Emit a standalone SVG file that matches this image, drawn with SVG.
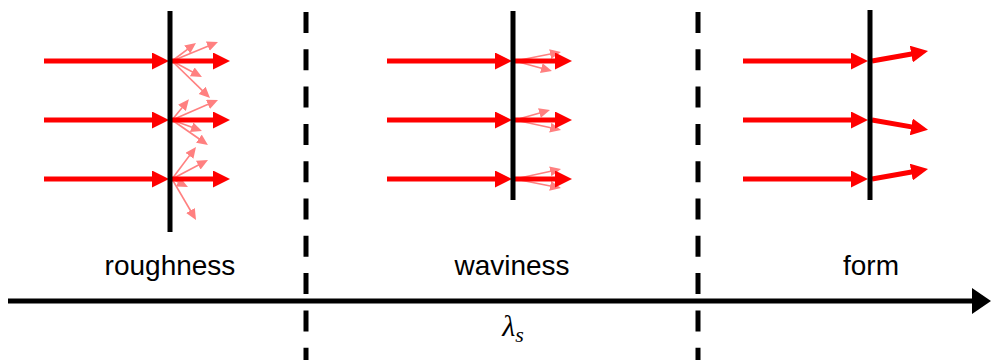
<svg xmlns="http://www.w3.org/2000/svg" width="991" height="360" viewBox="0 0 991 360">
<style>
.surf{stroke:#000;stroke-width:5;fill:none}
.dash{stroke:#000;stroke-width:5;fill:none;stroke-dasharray:21 16.3}
.ray{stroke:#f00;stroke-width:5;fill:none;marker-end:url(#big)}
.sc{stroke:#ff8080;stroke-width:1.6;fill:none;marker-end:url(#small)}
.lbl{font-family:"Liberation Sans",Arial,sans-serif;font-size:28px;fill:#000;text-anchor:middle}
</style>
<defs>
<marker id="big" markerUnits="userSpaceOnUse" markerWidth="17" markerHeight="17" refX="6" refY="8.5" orient="auto"><path d="M0,0 L17,8.5 L0,17 z" fill="#f00"/></marker>
<marker id="small" markerUnits="userSpaceOnUse" markerWidth="12" markerHeight="11" refX="4" refY="5" orient="auto"><path d="M0,0 L11,5 L0,10 z" fill="#ff8080"/></marker>
<marker id="axis" markerUnits="userSpaceOnUse" markerWidth="20" markerHeight="28" refX="6" refY="13" orient="auto"><path d="M0,0 L19,13 L0,26 z" fill="#000"/></marker>
</defs>

<g id="dividers">
<line class="dash" x1="306" y1="12" x2="306" y2="360"/>
<line class="dash" x1="698" y1="12" x2="698" y2="360"/>
</g>

<g id="axis-group">
<line x1="8" y1="301" x2="978" y2="301" stroke="#000" stroke-width="5" marker-end="url(#axis)"/>
<text x="513" y="336" font-family="'Liberation Serif','DejaVu Serif',serif" font-style="italic" font-size="30" text-anchor="middle">λ<tspan font-size="22" dy="6">s</tspan></text>
</g>

<g id="roughness">
<g class="connectors">
<line class="sc" x1="172" y1="61" x2="190.4" y2="47.2"/>
<line class="sc" x1="172" y1="61" x2="211.5" y2="44.7"/>
<line class="sc" x1="172" y1="61" x2="195.8" y2="73.7"/>
<line class="sc" x1="172" y1="61" x2="205" y2="93.1"/>
<line class="sc" x1="172" y1="120" x2="184.5" y2="104.7"/>
<line class="sc" x1="172" y1="120" x2="211.6" y2="102.8"/>
<line class="sc" x1="172" y1="120" x2="195.4" y2="128.6"/>
<line class="sc" x1="172" y1="120" x2="202.2" y2="141"/>
<line class="sc" x1="172" y1="179" x2="191.8" y2="152.6"/>
<line class="sc" x1="172" y1="179" x2="201.8" y2="163.3"/>
<line class="sc" x1="172" y1="179" x2="181.7" y2="183.9"/>
<line class="sc" x1="172" y1="179" x2="192.5" y2="214"/>
<line class="ray" x1="44" y1="61" x2="158" y2="61"/>
<line class="ray" x1="44" y1="120" x2="158" y2="120"/>
<line class="ray" x1="44" y1="179" x2="158" y2="179"/>
<line class="ray" x1="172" y1="61" x2="219" y2="61"/>
<line class="ray" x1="172" y1="120" x2="219" y2="120"/>
<line class="ray" x1="172" y1="179" x2="219" y2="179"/>
</g>
<line class="surf" x1="170" y1="11" x2="170" y2="232"/>
<text class="lbl" x="170" y="275">roughness</text>
</g>

<g id="waviness">
<g class="connectors">
<line class="sc" x1="515" y1="61" x2="554.1" y2="53.3"/>
<line class="sc" x1="515" y1="61" x2="545.2" y2="69.2"/>
<line class="sc" x1="515" y1="120" x2="543.3" y2="111.9"/>
<line class="sc" x1="515" y1="120" x2="554.2" y2="128.5"/>
<line class="sc" x1="515" y1="179" x2="554.2" y2="170.5"/>
<line class="sc" x1="515" y1="179" x2="554.1" y2="186.7"/>
<line class="ray" x1="387" y1="61" x2="501" y2="61"/>
<line class="ray" x1="387" y1="120" x2="501" y2="120"/>
<line class="ray" x1="387" y1="179" x2="501" y2="179"/>
<line class="ray" x1="515" y1="61" x2="561" y2="61"/>
<line class="ray" x1="515" y1="120" x2="561" y2="120"/>
<line class="ray" x1="515" y1="179" x2="561" y2="179"/>
</g>
<line class="surf" x1="513" y1="11" x2="513" y2="200"/>
<text class="lbl" x="512" y="275">waviness</text>
</g>

<g id="form">
<g class="connectors">
<line class="ray" x1="743" y1="61" x2="857" y2="61"/>
<line class="ray" x1="743" y1="120" x2="857" y2="120"/>
<line class="ray" x1="743" y1="179" x2="857" y2="179"/>
<line class="ray" x1="872" y1="61" x2="917.2" y2="53"/>
<line class="ray" x1="872" y1="120" x2="917.2" y2="127.9"/>
<line class="ray" x1="872" y1="179" x2="917.2" y2="171"/>
</g>
<line class="surf" x1="870" y1="10" x2="870" y2="200"/>
<text class="lbl" x="871" y="275">form</text>
</g>
</svg>
